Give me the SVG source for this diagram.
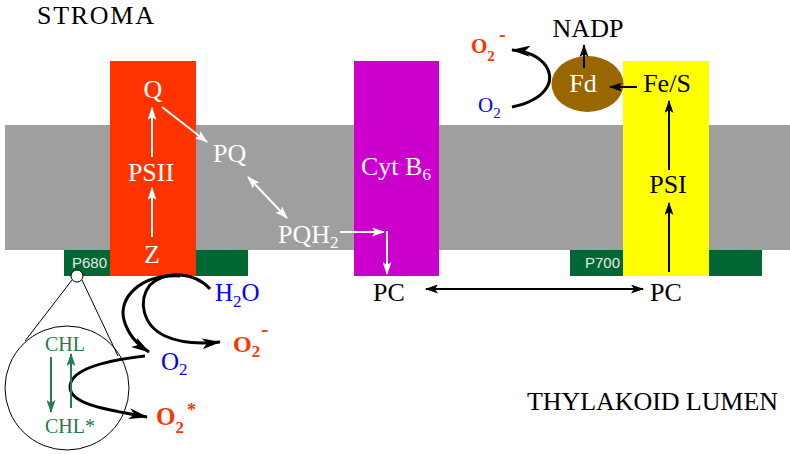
<svg xmlns="http://www.w3.org/2000/svg" width="790" height="454" viewBox="0 0 790 454">
<style>
text{font-family:"Liberation Serif","Times New Roman",serif;}
.lbl{font-size:26px;}
.blk{fill:#000;}
.wht{fill:#fff;}
.blue{fill:#0000ff;}
.red{fill:#ff3300;font-weight:bold;}
.grn{fill:#237a4c;}
.pn{font-family:"Liberation Sans",Arial,sans-serif;font-size:15px;fill:#e8e8e8;}
.lw{stroke:#fff;stroke-width:2;fill:none;}
.lb{stroke:#000;stroke-width:2;fill:none;}
.cb{stroke:#000;stroke-width:3;fill:none;}
.lg{stroke:#237a4c;stroke-width:2;fill:none;}
.thin{stroke:#000;stroke-width:1;fill:none;}
</style>
<defs>
<marker id="aw" viewBox="0 0 13 9" refX="12" refY="4.5" markerWidth="13" markerHeight="9" markerUnits="userSpaceOnUse" orient="auto-start-reverse"><path d="M0,0 L13,4.5 L0,9 L3,4.5 z" fill="#fff"/></marker>
<marker id="ab" viewBox="0 0 13 9" refX="12" refY="4.5" markerWidth="13" markerHeight="9" markerUnits="userSpaceOnUse" orient="auto-start-reverse"><path d="M0,0 L13,4.5 L0,9 L3,4.5 z" fill="#000"/></marker>
<marker id="abl" viewBox="0 0 19 11" refX="18" refY="5.5" markerWidth="19" markerHeight="11" markerUnits="userSpaceOnUse" orient="auto"><path d="M0,0 L19,5.5 L0,11 L5,5.5 z" fill="#000"/></marker>
<marker id="ag" viewBox="0 0 13 9" refX="12" refY="4.5" markerWidth="13" markerHeight="9" markerUnits="userSpaceOnUse" orient="auto"><path d="M0,0 L13,4.5 L0,9 L3,4.5 z" fill="#237a4c"/></marker>
</defs>

<g id="membrane"><rect x="5" y="125" width="785" height="125" fill="#9f9f9f"/></g>
<g id="p680"><rect x="64" y="250" width="184" height="26" fill="#006633"/><text class="pn" x="72" y="268">P680</text></g>
<g id="p700"><rect x="570" y="250" width="192" height="26" fill="#006633"/><text class="pn" x="585" y="268">P700</text></g>
<g id="psii"><rect x="110" y="61" width="86" height="215" fill="#ff3300"/>
<text class="lbl wht" x="153" y="98" text-anchor="middle">Q</text>
<text class="lbl wht" x="151" y="181" text-anchor="middle">PSII</text>
<text class="lbl wht" x="152" y="263" text-anchor="middle">Z</text></g>
<g id="cytb6"><rect x="354" y="61" width="85" height="215" fill="#cc00cc"/>
<text class="lbl wht" x="361" y="175">Cyt B<tspan font-size="17" dy="5">6</tspan></text></g>
<g id="psi"><rect x="623" y="61" width="86" height="215" fill="#ffff00"/>
<text class="lbl blk" x="668" y="193" text-anchor="middle">PSI</text>
<text class="lbl blk" x="667" y="92" text-anchor="middle">Fe/S</text></g>
<g id="fd"><ellipse cx="587.5" cy="84" rx="36" ry="28" fill="#996600"/><text class="lbl wht" x="583" y="92" text-anchor="middle">Fd</text></g>
<g id="pq"><text class="lbl wht" x="213" y="162">PQ</text></g>
<g id="pqh2"><text class="lbl wht" x="278" y="243">PQH<tspan font-size="17" dy="5">2</tspan></text></g>
<g id="pc-left"><text class="lbl blk" x="389" y="301" text-anchor="middle">PC</text></g>
<g id="pc-right"><text class="lbl blk" x="666" y="301" text-anchor="middle">PC</text></g>
<g id="nadp"><text class="lbl blk" x="588" y="37" text-anchor="middle">NADP</text></g>
<g id="stroma"><text class="lbl blk" x="37" y="24" textLength="117">STROMA</text></g>
<g id="lumen"><text class="lbl blk" x="527" y="410" textLength="251">THYLAKOID LUMEN</text></g>
<g id="h2o"><text class="blue" font-size="25" x="215" y="301">H<tspan font-size="17" dy="6">2</tspan><tspan dy="-6">O</tspan></text></g>
<g id="o2-top"><text class="blue" font-size="21" x="478" y="112">O<tspan font-size="15" dy="6">2</tspan></text></g>
<g id="o2minus-top"><text class="red" font-size="21" x="471" y="53">O<tspan font-size="15" dy="8">2</tspan><tspan font-size="20" x="499" y="41">-</tspan></text></g>
<g id="o2-mid"><text class="blue" font-size="25" x="161" y="370">O<tspan font-size="17" dy="5">2</tspan></text></g>
<g id="o2minus-mid"><text class="red" font-size="24" x="233" y="352">O<tspan font-size="17" dy="5">2</tspan><tspan font-size="22" x="261" y="336">-</tspan></text></g>
<g id="o2star"><text class="red" font-size="25" x="156" y="425">O<tspan font-size="17" dy="8">2</tspan><tspan font-size="18" x="187" y="416">*</tspan></text></g>
<g id="chl"><text class="grn" font-size="20" x="45" y="351">CHL</text></g>
<g id="chlstar"><text class="grn" font-size="20" x="45" y="433">CHL*</text></g>
<g id="inset"><circle cx="67" cy="388" r="62" class="thin"/><circle cx="77" cy="276" r="6" fill="#fff" stroke="#000" stroke-width="1"/>
<line x1="72" y1="280" x2="25" y2="341" class="thin"/><line x1="82" y1="280" x2="118" y2="356" class="thin"/></g>

<g id="connectors">
<line x1="152" y1="237" x2="152" y2="188" class="lw" marker-end="url(#aw)"/>
<line x1="152" y1="157" x2="152" y2="108" class="lw" marker-end="url(#aw)"/>
<line x1="162" y1="107" x2="207" y2="142" class="lw" marker-end="url(#aw)"/>
<line x1="248" y1="177" x2="287" y2="218" class="lw" marker-start="url(#aw)" marker-end="url(#aw)"/>
<line x1="340" y1="232" x2="384" y2="232" class="lw" marker-end="url(#aw)"/>
<line x1="387" y1="231" x2="387" y2="274" class="lw" marker-end="url(#aw)"/>
<line x1="426" y1="289" x2="643" y2="289" class="lb" marker-start="url(#ab)" marker-end="url(#ab)"/>
<line x1="669" y1="272" x2="669" y2="203" class="lb" marker-end="url(#ab)"/>
<line x1="669" y1="170" x2="669" y2="101" class="lb" marker-end="url(#ab)"/>
<line x1="637" y1="87" x2="610" y2="87" class="lb" marker-end="url(#ab)"/>
<line x1="584" y1="68" x2="584" y2="45" class="lb" marker-end="url(#ab)"/>
<path d="M512,107 C545,100 556,82 546,66 C538,55 526,51 512,50" class="cb" marker-end="url(#abl)"/>
<path d="M210,289 C195,272 165,270 150,285 C138,300 142,325 165,336 C180,343 200,344 220,342" class="cb" marker-end="url(#abl)"/>
<path d="M180,276 C140,274 118,298 124,320 C128,335 138,345 149,352" class="cb" marker-end="url(#abl)"/>
<path d="M145,356 C110,360 70,368 70,387 C70,405 110,410 147,417" class="cb" marker-end="url(#abl)"/>
<line x1="51" y1="357" x2="51" y2="412" class="lg" marker-end="url(#ag)"/>
<line x1="71" y1="408" x2="71" y2="354" class="lg" marker-end="url(#ag)"/>
</g>
</svg>
